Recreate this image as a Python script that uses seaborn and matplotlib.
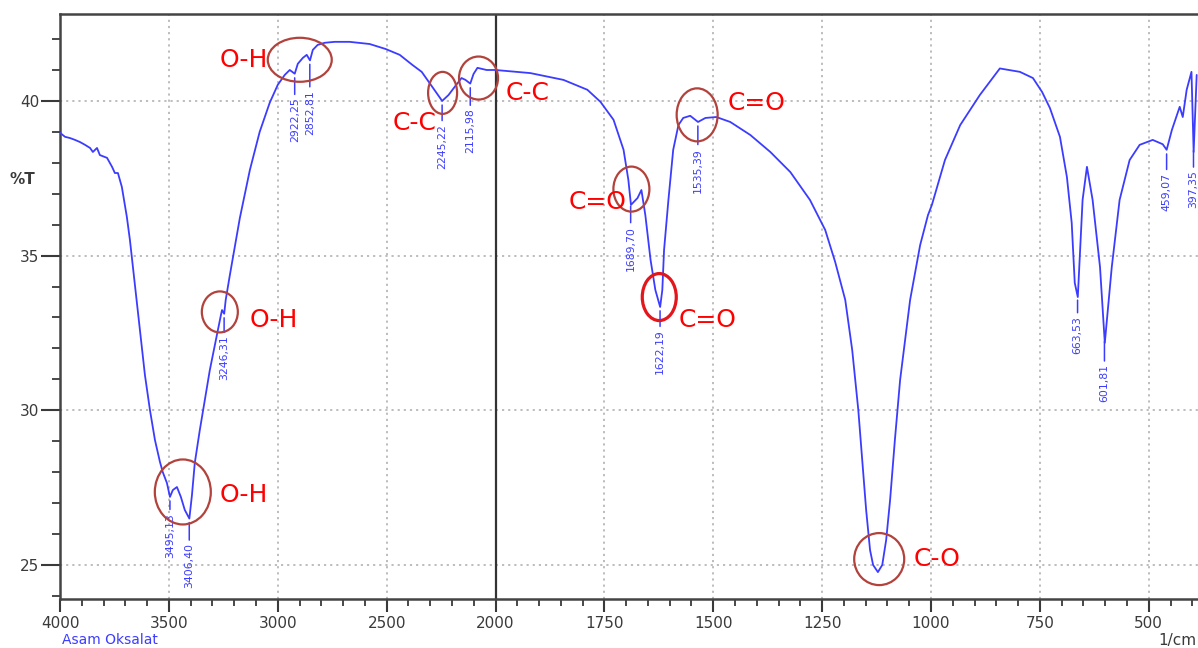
import numpy as np
import matplotlib
matplotlib.use("Agg")
import matplotlib.pyplot as plt
import seaborn as sns
import pandas as pd
from matplotlib.patches import Ellipse
from matplotlib.transforms import ScaledTranslation
from matplotlib.ticker import FixedLocator, FuncFormatter, NullFormatter

# ---------------- data ----------------
wavenumber = [4000, 3977, 3954, 3931, 3908, 3885, 3862, 3849, 3830, 3817, 3784, 3761, 3748, 3734,
              3716, 3693, 3679, 3656, 3633, 3610, 3587, 3564, 3541, 3528, 3509, 3495, 3482, 3463,
              3445, 3427, 3406, 3394, 3381, 3358, 3335, 3312, 3289, 3271, 3261, 3256, 3246, 3239,
              3220, 3174, 3128, 3083, 3037, 3000, 2968, 2945, 2922, 2908, 2885, 2867, 2852, 2839,
              2817, 2784, 2739, 2670, 2578, 2505, 2440, 2381, 2339, 2303, 2271, 2245, 2216, 2188,
              2156, 2138, 2116, 2101, 2083, 2041, 2000,
              1920, 1844, 1789, 1759, 1729, 1706, 1695, 1689, 1674, 1665, 1656, 1644, 1633, 1622,
              1617, 1613, 1603, 1592, 1580, 1569, 1553, 1535, 1518, 1493, 1461, 1415, 1369, 1323,
              1278, 1243, 1220, 1197, 1181, 1167, 1158, 1149, 1140, 1133, 1122, 1112, 1103, 1094,
              1083, 1071, 1048, 1025, 1007, 998, 968, 933, 888, 842, 796, 766, 745, 727, 704, 688,
              677, 670, 663, 652, 642, 629, 612, 601, 585, 567, 544, 521, 491, 475, 468, 459, 447,
              429, 422, 413, 402, 397, 390]
transmittance = [38.97, 38.84, 38.80, 38.74, 38.67, 38.58, 38.48, 38.35, 38.48, 38.25, 38.16, 37.87,
                 37.67, 37.67, 37.22, 36.25, 35.51, 34.05, 32.60, 31.14, 30.01, 29.04, 28.33, 28.00,
                 27.65, 27.20, 27.42, 27.52, 27.20, 26.78, 26.50, 27.26, 28.30, 29.36, 30.33, 31.30,
                 32.11, 32.76, 33.08, 33.24, 33.12, 33.57, 34.37, 36.22, 37.77, 39.00, 39.94, 40.52,
                 40.84, 41.00, 40.88, 41.20, 41.39, 41.49, 41.31, 41.65, 41.81, 41.88, 41.91, 41.91,
                 41.84, 41.68, 41.49, 41.16, 40.94, 40.58, 40.26, 40.00, 40.19, 40.45, 40.74, 40.68,
                 40.56, 40.87, 41.07, 41.00, 41.00,
                 40.90, 40.68, 40.36, 39.97, 39.39, 38.42, 37.45, 36.64, 36.86, 37.12, 36.31, 34.86,
                 33.89, 33.34, 33.89, 35.18, 36.80, 38.42, 39.22, 39.45, 39.52, 39.32, 39.45, 39.48,
                 39.32, 38.90, 38.35, 37.70, 36.80, 35.83, 34.79, 33.57, 31.95, 30.01, 28.39, 26.78,
                 25.48, 25.00, 24.77, 25.00, 25.81, 27.10, 29.04, 30.98, 33.57, 35.34, 36.31, 36.64,
                 38.09, 39.22, 40.19, 41.05, 40.94, 40.74, 40.29, 39.77, 38.84, 37.54, 36.06, 34.12,
                 33.66, 36.80, 37.87, 36.80, 34.63, 32.18, 34.63, 36.80, 38.09, 38.58, 38.74, 38.64,
                 38.60, 38.42, 39.06, 39.81, 39.48, 40.36, 40.94, 38.35, 40.84]

peak_wn = [3495.13, 3406.40, 3246.31, 2922.25, 2852.81, 2245.22, 2115.98,
           1689.70, 1622.19, 1535.39, 663.53, 601.81, 459.07, 397.35]
peak_labels = ["3495,13", "3406,40", "3246,31", "2922,25", "2852,81", "2245,22", "2115,98",
               "1689,70", "1622,19", "1535,39", "663,53", "601,81", "459,07", "397,35"]

group_labels = ["O-H", "O-H", "O-H", "C-C", "C-C", "C=O", "C=O", "C=O", "C-O"]
group_text_wn = [3266, 3128, 3266, 2472, 1977, 1833, 1580, 1468, 1039]
group_text_t = [41.33, 32.92, 27.26, 39.29, 40.26, 36.73, 32.92, 39.94, 25.19]
circle_wn = [2899, 3266, 3436, 2243, 2078, 1688, 1624, 1537, 1119]
circle_t = [41.33, 33.18, 27.36, 40.26, 40.74, 37.15, 33.66, 39.55, 25.19]

x_major = [4000, 3500, 3000, 2500, 2000, 1750, 1500, 1250, 1000, 750, 500]
y_major = [25, 30, 35, 40]

# ---------------- style ----------------
sns.set_style("ticks")
plt.rcParams['font.family'] = ['DejaVu Sans']

W, H = 1198, 648
fig = plt.figure(figsize=(W / 100, H / 100), dpi=100)
ax = fig.add_axes([60 / W, 1 - 599 / H, (W - 60) / W, (599 - 14) / H])

df = pd.DataFrame({"wn": wavenumber, "T": transmittance})
sns.lineplot(data=df, x="wn", y="T", ax=ax, color="#3c3cff", lw=1.3,
             estimator=None, sort=False, zorder=3)


def fwd(x):
    x = np.asarray(x, dtype=float)
    return np.where(x >= 2000, x, 2 * x - 2000)


def inv(p):
    p = np.asarray(p, dtype=float)
    return np.where(p >= 2000, p, (p + 2000) / 2)


ax.set_xscale("function", functions=(fwd, inv))
ax.set_xlim(4000, 387)
ax.set_ylim(23.9, 42.81)

minor_x = [v for v in list(range(4000, 2000, -100)) + list(range(2000, 386, -50)) if v not in x_major]
ax.xaxis.set_major_locator(FixedLocator(x_major))
ax.xaxis.set_minor_locator(FixedLocator(minor_x))
ax.xaxis.set_major_formatter(FuncFormatter(lambda v, p: f"{v:.0f}"))
ax.xaxis.set_minor_formatter(NullFormatter())
ax.yaxis.set_major_locator(FixedLocator(y_major))
ax.yaxis.set_minor_locator(FixedLocator([v for v in range(24, 43) if v not in y_major]))

ax.set_xlabel("")
ax.set_ylabel("")

tick_col = "#3a3a3a"
ax.tick_params(axis="x", which="major", length=9.5, width=1.5, color=tick_col,
               labelsize=11, labelcolor=tick_col, pad=3)
ax.tick_params(axis="x", which="minor", length=5, width=1.3, color=tick_col)
ax.tick_params(axis="y", which="major", length=14, width=1.5, color=tick_col,
               labelsize=11, labelcolor=tick_col, pad=1)
ax.tick_params(axis="y", which="minor", length=5.5, width=1.3, color=tick_col)

for s in ["left", "bottom", "top"]:
    ax.spines[s].set_color("#444444")
    ax.spines[s].set_linewidth(1.8)
ax.spines["right"].set_visible(False)

ax.grid(True, which="major", linestyle=(0, (1.2, 2.2)), color="#b8b8b8", lw=1.3, zorder=0)
ax.axvline(2000, color="#333333", lw=1.6, zorder=2)

# ---------------- peak labels ----------------
order = np.argsort(wavenumber)
wn_sorted = np.asarray(wavenumber)[order]
t_sorted = np.asarray(transmittance)[order]
peak_t = np.interp(peak_wn, wn_sorted, t_sorted)
peak_offsets = [16, 25, 22, 24, 30, 23, 25, 24, 23, 26, 20, 27, 23, 24]
blue = "#3c3cff"
for w, t, lab, off in zip(peak_wn, peak_t, peak_labels, peak_offsets):
    ax.annotate(lab, xy=(w, t), xytext=(0, -off), textcoords="offset pixels",
                rotation=90, ha="center", va="top", fontsize=7.8, color=blue,
                arrowprops=dict(arrowstyle="-", color=blue, lw=1.1, shrinkA=0, shrinkB=3),
                zorder=4)

# ---------------- circles + group labels ----------------
circle_w = [64, 36, 56, 29, 39, 36, 34, 41, 50]
circle_h = [44, 41, 65, 42, 43, 45, 47, 53, 52]
for i, (cw, ct) in enumerate(zip(circle_wn, circle_t)):
    tr = fig.dpi_scale_trans + ScaledTranslation(cw, ct, ax.transData)
    bright = (i == 6)
    e = Ellipse((0, 0), circle_w[i] / 100, circle_h[i] / 100, transform=tr, fill=False,
                edgecolor="#e3161c" if bright else "#b2423c", lw=2.3 if bright else 1.6, zorder=5)
    ax.add_patch(e)

for lab, tw, tt in zip(group_labels, group_text_wn, group_text_t):
    ax.text(tw, tt, lab, color="#ff0000", fontsize=18, ha="left", va="center", zorder=6)

# ---------------- outer texts ----------------
fig.text(10 / W, 1 - 180 / H, "%T", fontsize=11, color=tick_col, ha="left", va="center",
         fontweight="bold")
fig.text(62 / W, 1 - 640 / H, "Asam Oksalat", fontsize=10, color=blue, ha="left", va="center")
fig.text(1196 / W, 1 - 640 / H, "1/cm", fontsize=11, color=tick_col, ha="right", va="center")

fig.savefig("out.png", dpi=100)
